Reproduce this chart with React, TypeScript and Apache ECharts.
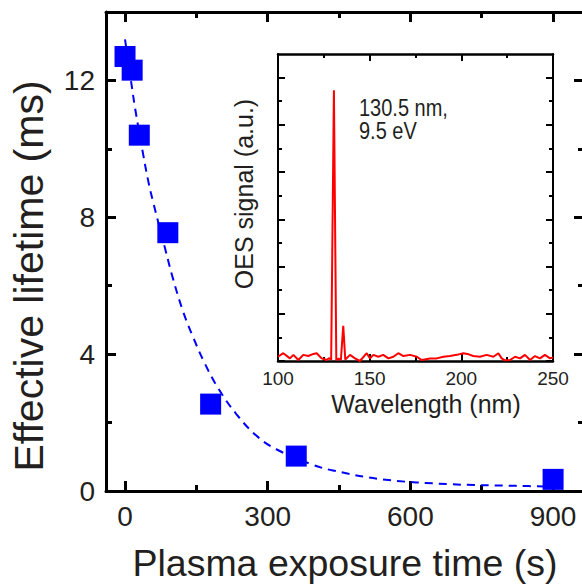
import React, { useEffect, useRef } from "react";
import * as echarts from "echarts";

// Main plot: effective lifetime vs plasma exposure time
const plasmaTime = [0, 15, 30, 90, 180, 360, 900];
const lifetime = [12.7, 12.3, 10.4, 7.55, 2.54, 1.02, 0.34];

// Exponential fit curve
const fitTime = [0, 14, 21, 38, 49, 59, 84, 101, 122, 143, 168, 196, 234, 276, 318, 392, 437, 542, 682, 822, 900];
const fitLifetime = [13.2, 11.85, 11.2, 9.85, 9.05, 8.45, 7.1, 6.2, 5.25, 4.5, 3.72, 3.0, 2.25, 1.62, 1.22, 0.78, 0.6, 0.34, 0.2, 0.15, 0.13];

// Inset: OES spectrum
const wavelength = [100, 102.9, 106.5, 108.4, 111.1, 113.8, 116.5, 119.3, 121.1, 123.8, 126.5, 127.8, 129, 130.5, 131.8, 133, 134.3, 135.6, 136.7, 139.3, 142, 144.7, 148.4, 150.2, 152, 154.7, 157.4, 160.2, 162.9, 165.6, 168.4, 172, 175.7, 178.4, 182.9, 186.6, 190.2, 193.8, 197.5, 201.1, 203.3, 206.5, 210.2, 213.8, 217.5, 220.2, 222, 223.8, 226.5, 229.3, 232, 234.7, 237.5, 240.2, 242.9, 245.6, 248.4, 250];
const oesSignal = [0.18, 0.33, 0.11, 0.26, 0.04, 0.26, 0.21, 0.3, 0.33, 0.11, 0.04, 0.12, 0.05, 11.46, 0.04, 0.1, 0.05, 1.49, 0.06, 0.26, 0.11, 0.0, 0.33, 0.11, 0.26, 0.18, 0.26, 0.11, 0.18, 0.33, 0.21, 0.26, 0.18, 0.04, 0.11, 0.11, 0.18, 0.21, 0.26, 0.33, 0.3, 0.21, 0.18, 0.26, 0.18, 0.33, 0.11, 0.03, 0.04, 0.18, 0.11, 0.26, 0.04, 0.21, 0.11, 0.26, 0.11, 0.15];

// Tick values
const mainXMajor = [0, 300, 600, 900];
const mainXMinor = [150, 450, 750];
const mainYMajor = [0, 4, 8, 12];
const mainYMinor = [2, 6, 10];
const insetYMajor = [0, 2, 4, 6, 8, 10, 12];
const insetYMinor = [1, 3, 5, 7, 9, 11];

const FONT = "'Liberation Sans', Arial, Helvetica, sans-serif";
const TXT = "#231f20";

export default function App() {
  const ref = useRef<HTMLDivElement>(null);

  useEffect(() => {
    if (!ref.current) return;
    const chart = echarts.init(ref.current, undefined, { renderer: "svg" });

    const mkAxis = (grid: number, pos: string, min: number, max: number, ticks: number[], len: number, lw: number, showLine: boolean, labels: number[] | null, extra: any = {}) => ({
      type: "value",
      gridIndex: grid,
      position: pos,
      min,
      max,
      axisLine: { show: showLine, onZero: false, lineStyle: { color: "#000", width: lw } },
      axisTick: { show: true, inside: true, length: len, customValues: ticks, lineStyle: { color: "#000", width: lw } },
      axisLabel: labels
        ? { show: true, customValues: labels, fontSize: 28, color: TXT, fontFamily: FONT, margin: 11 }
        : { show: false },
      splitLine: { show: false },
      ...extra,
    });

    const XMIN = -40;
    const XMAX = 965;

    const option: any = {
      animation: false,
      backgroundColor: "#fff",
      grid: [
        { left: 106, top: 12, width: 478, height: 479, outerBoundsMode: "none", containLabel: false },
        { left: 278, top: 54, width: 275, height: 307, outerBoundsMode: "none", containLabel: false },
      ],
      xAxis: [
        mkAxis(0, "bottom", XMIN, XMAX, mainXMajor, 10, 3, true, mainXMajor, {
          name: "Plasma exposure time (s)",
          nameLocation: "middle",
          nameGap: 53,
          nameTextStyle: { fontSize: 37.5, color: TXT, fontFamily: FONT },
        }),
        mkAxis(0, "bottom", XMIN, XMAX, mainXMinor, 6, 3, false, null),
        mkAxis(0, "top", XMIN, XMAX, mainXMajor, 10, 3, true, null),
        mkAxis(0, "top", XMIN, XMAX, mainXMinor, 6, 3, false, null),
        {
          type: "value",
          gridIndex: 1,
          position: "bottom",
          min: 100,
          max: 250,
          interval: 50,
          axisLine: { show: true, onZero: false, lineStyle: { color: "#000", width: 2.5 } },
          axisTick: { show: true, inside: true, length: 7, lineStyle: { color: "#000", width: 2 } },
          minorTick: { show: true, splitNumber: 2, length: 4, lineStyle: { color: "#000", width: 2 } },
          axisLabel: { fontSize: 19, color: TXT, fontFamily: FONT, margin: 8 },
          splitLine: { show: false },
          minorSplitLine: { show: false },
        },
        {
          type: "value",
          gridIndex: 1,
          position: "top",
          min: 100,
          max: 250,
          interval: 50,
          axisLine: { show: true, onZero: false, lineStyle: { color: "#000", width: 2.5 } },
          axisTick: { show: true, inside: true, length: 7, lineStyle: { color: "#000", width: 2 } },
          minorTick: { show: true, splitNumber: 2, length: 4, lineStyle: { color: "#000", width: 2 } },
          axisLabel: { show: false },
          splitLine: { show: false },
          minorSplitLine: { show: false },
        },
      ],
      yAxis: [
        mkAxis(0, "left", 0, 14, mainYMajor, 10, 3, true, mainYMajor, {}),
        mkAxis(0, "left", 0, 14, mainYMinor, 6, 3, false, null),
        mkAxis(0, "right", 0, 14, mainYMajor, 10, 3, true, null),
        mkAxis(0, "right", 0, 14, mainYMinor, 6, 3, false, null),
        mkAxis(1, "left", 0, 13, insetYMajor, 7, 2, true, null),
        mkAxis(1, "left", 0, 13, insetYMinor, 4, 2, false, null),
        mkAxis(1, "right", 0, 13, insetYMajor, 7, 2, true, null),
        mkAxis(1, "right", 0, 13, insetYMinor, 4, 2, false, null),
      ],
      series: [
        {
          type: "line",
          xAxisIndex: 0,
          yAxisIndex: 0,
          data: fitTime.map((t, i) => [t, fitLifetime[i]]),
          showSymbol: false,
          smooth: 0.4,
          lineStyle: { color: "#0000ff", width: 2, type: [8, 6] },
          z: 1,
        },
        {
          type: "scatter",
          xAxisIndex: 0,
          yAxisIndex: 0,
          data: plasmaTime.map((t, i) => [t, lifetime[i]]),
          symbol: "rect",
          symbolSize: 21,
          itemStyle: { color: "#0000ff", opacity: 1 },
          z: 3,
        },
        {
          type: "line",
          xAxisIndex: 4,
          yAxisIndex: 4,
          data: wavelength.map((w, i) => [w, oesSignal[i]]),
          showSymbol: false,
          lineStyle: { color: "#ff0000", width: 2 },
          z: 2,
        },
      ],
      graphic: [
        {
          type: "text",
          x: 29,
          y: 276,
          rotation: Math.PI / 2,
          style: { text: "Effective lifetime (ms)", fontSize: 41, fontFamily: FONT, fill: TXT, align: "center", verticalAlign: "middle" },
        },
        {
          type: "text",
          x: 244,
          y: 194,
          rotation: Math.PI / 2,
          style: { text: "OES signal (a.u.)", fontSize: 25, fontFamily: FONT, fill: TXT, align: "center", verticalAlign: "middle" },
        },
        {
          type: "text",
          x: 426,
          y: 404,
          style: { text: "Wavelength (nm)", fontSize: 25, fontFamily: FONT, fill: TXT, align: "center", verticalAlign: "middle" },
        },
        {
          type: "text",
          x: 359,
          y: 119,
          scaleY: 1.15,
          style: {
            text: "130.5 nm,\n9.5 eV",
            fontSize: 20,
            lineHeight: 20,
            fontFamily: FONT,
            fill: TXT,
            align: "left",
            verticalAlign: "middle",
          },
        },
      ],
    };

    chart.setOption(option);
    return () => chart.dispose();
  }, []);

  return <div ref={ref} style={{ position: "absolute", left: 0, top: 0, width: 582, height: 584 }} />;
}
